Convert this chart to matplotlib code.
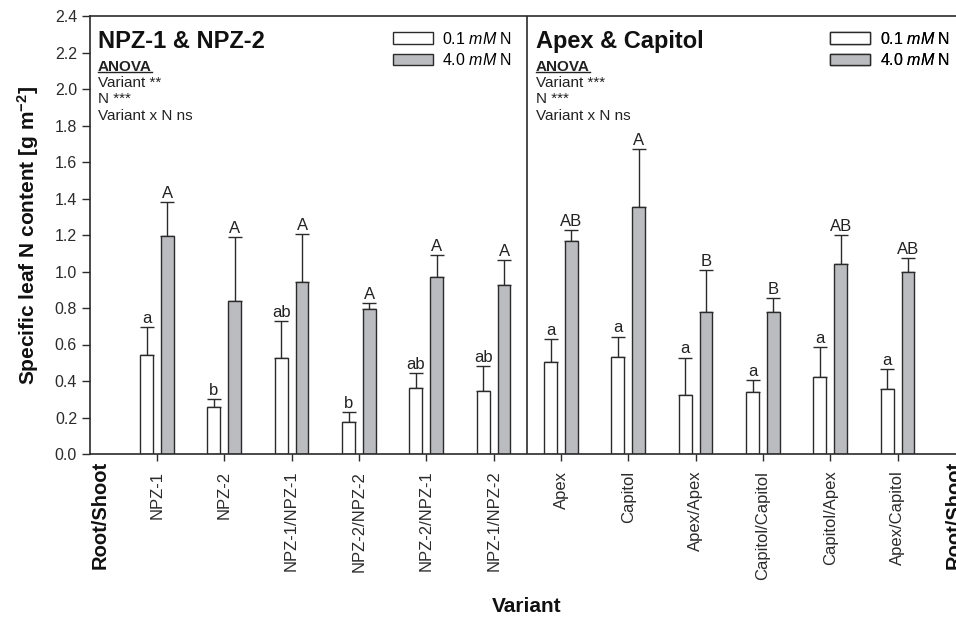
import matplotlib
matplotlib.use("Agg")
import matplotlib.pyplot as plt
from matplotlib.patches import Rectangle
from matplotlib.transforms import blended_transform_factory
import numpy as np

plt.rcParams['font.family'] = ['Liberation Sans', 'DejaVu Sans']
plt.rcParams['mathtext.fontset'] = 'custom'
plt.rcParams['mathtext.rm'] = 'Liberation Sans'
plt.rcParams['mathtext.it'] = 'Liberation Sans:italic'
plt.rcParams['mathtext.bf'] = 'Liberation Sans:bold'

# Data
variants = ['NPZ-1', 'NPZ-2', 'NPZ-1/NPZ-1', 'NPZ-2/NPZ-2', 'NPZ-2/NPZ-1',
            'NPZ-1/NPZ-2', 'Apex', 'Capitol', 'Apex/Apex', 'Capitol/Capitol',
            'Capitol/Apex', 'Apex/Capitol']
low_mean = [0.54, 0.26, 0.525, 0.178, 0.363, 0.347,
            0.504, 0.53, 0.325, 0.34, 0.422, 0.354]
low_err = [0.154, 0.043, 0.204, 0.05, 0.082, 0.137,
           0.124, 0.113, 0.203, 0.067, 0.163, 0.113]
high_mean = [1.196, 0.837, 0.941, 0.793, 0.968, 0.928,
             1.169, 1.353, 0.78, 0.78, 1.041, 0.999]
high_err = [0.183, 0.35, 0.264, 0.034, 0.122, 0.133,
            0.058, 0.318, 0.228, 0.075, 0.159, 0.073]
low_letters = ['a', 'b', 'ab', 'b', 'ab', 'ab', 'a', 'a', 'a', 'a', 'a', 'a']
high_letters = ['A', 'A', 'A', 'A', 'A', 'A', 'AB', 'A', 'B', 'B', 'AB', 'AB']

edge = '#2b2b2b'
gray = '#bbbcc0'

fig = plt.figure(figsize=(9.56, 6.18), dpi=100)
ax = fig.add_axes([89.6 / 956, 1 - 454 / 618, 875.4 / 956, 438 / 618])

x = np.arange(1, len(variants) + 1)
w = 0.19
off = 0.155

ax.bar(x - off, low_mean, w, color='white', edgecolor=edge, linewidth=1.0, zorder=2)
ax.bar(x + off, high_mean, w, color=gray, edgecolor=edge, linewidth=1.0, zorder=2)

ax.errorbar(x - off, low_mean, yerr=[np.zeros(len(x)), low_err], fmt='none',
            ecolor=edge, elinewidth=1.0, capsize=4.8, capthick=1.0, zorder=1)
ax.errorbar(x + off, high_mean, yerr=[np.zeros(len(x)), high_err], fmt='none',
            ecolor=edge, elinewidth=1.0, capsize=4.8, capthick=1.0, zorder=1)

for xi, m, e, t in zip(x - off, low_mean, low_err, low_letters):
    ax.annotate(t, (xi, m + e), xytext=(0, 3), textcoords='offset points',
                ha='center', va='baseline', fontsize=12, color='#222222')
for xi, m, e, t in zip(x + off, high_mean, high_err, high_letters):
    ax.annotate(t, (xi, m + e), xytext=(0, 3), textcoords='offset points',
                ha='center', va='baseline', fontsize=12, color='#222222')

# divider between the two groups
ax.axvline(6.5, color=edge, linewidth=1.2)

ax.set_xlim(0, 13)
ax.set_ylim(0, 2.4)
ax.set_yticks(np.arange(0, 2.41, 0.2))
ax.set_yticklabels([f'{v:.1f}' for v in np.arange(0, 2.41, 0.2)])
ax.set_xticks(x)
ax.set_xticklabels(variants, rotation=90, va='top')
ax.tick_params(axis='x', length=5, width=1.0, pad=7, labelsize=12, colors=edge)
ax.tick_params(axis='y', length=6, width=1.0, pad=3, labelsize=11.5, colors=edge)
for sp in ax.spines.values():
    sp.set_color(edge)
    sp.set_linewidth(1.2)

trans = blended_transform_factory(ax.transData, ax.transAxes)
ax.text(0.16, -0.016, 'Root/Shoot', rotation=90, ha='center', va='top',
        fontsize=14.5, fontweight='bold', transform=trans, color='#111111')
ax.text(12.84, -0.016, 'Root/Shoot', rotation=90, ha='center', va='top',
        fontsize=14.5, fontweight='bold', transform=trans, color='#111111')

ax.set_ylabel(r'Specific leaf N content [g m$^{\mathbf{-2}}$]', fontsize=15,
              fontweight='bold', labelpad=10, color='#111111')
fig.text(527 / 956, 1 - 606 / 618, 'Variant', ha='center', va='center',
         fontsize=15, fontweight='bold', color='#111111')

# panel titles and ANOVA notes
panels = [
    (0.12, 'NPZ-1 & NPZ-2', ['Variant **', 'N ***', 'Variant x N ns']),
    (6.63, 'Apex & Capitol', ['Variant ***', 'N ***', 'Variant x N ns']),
]
anova_texts = []
for px, title, lines in panels:
    ax.text(px, 2.325, title, fontsize=17, fontweight='bold', va='top',
            color='#111111')
    at = ax.text(px, 2.16, 'ANOVA', fontsize=11, fontweight='bold', va='top',
                 color='#222222')
    anova_texts.append(at)
    ax.text(px, 2.07, '\n'.join(lines), fontsize=11, va='top',
            linespacing=1.2, color='#222222')

# legends
handles = [Rectangle((0, 0), 1, 1, facecolor='white', edgecolor=edge, linewidth=1.0),
           Rectangle((0, 0), 1, 1, facecolor=gray, edgecolor=edge, linewidth=1.0)]
labels = ['0.1 $\\it{mM}$ N', '4.0 $\\it{mM}$ N']
for lx in [4.5, 11.0]:
    leg = ax.legend(handles, labels, loc='upper left', bbox_to_anchor=(lx, 2.32),
                    bbox_transform=ax.transData, frameon=False, fontsize=11.5,
                    handlelength=2.5, handleheight=0.75, handletextpad=0.6,
                    labelspacing=0.35, borderpad=0, borderaxespad=0)
    ax.add_artist(leg)

# underline the ANOVA headings
fig.canvas.draw()
r = fig.canvas.get_renderer()
for at in anova_texts:
    bb = at.get_window_extent(r)
    inv = fig.transFigure.inverted()
    (x0, y0), (x1, _) = inv.transform([(bb.x0, bb.y0 + 1.5), (bb.x1, bb.y0)])
    fig.add_artist(plt.Line2D([x0, x1], [y0, y0], color='#222222', linewidth=1.0,
                              transform=fig.transFigure))

fig.savefig('out.png', dpi=100)
